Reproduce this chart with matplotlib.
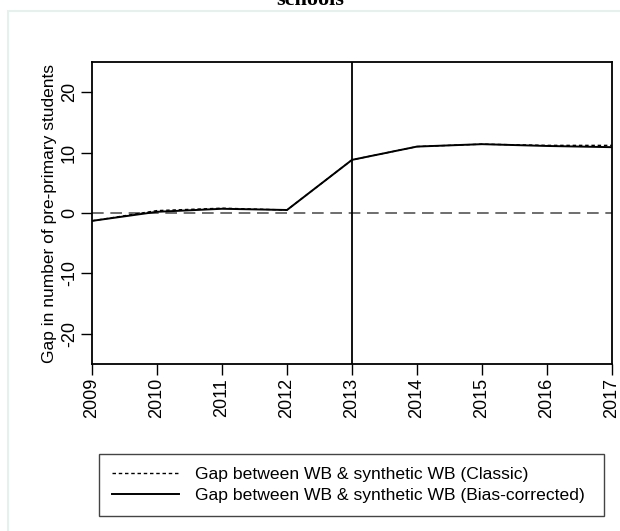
import matplotlib as mpl
mpl.use('Agg')
import matplotlib.pyplot as plt
from matplotlib.patches import Rectangle

years = [2009, 2010, 2011, 2012, 2013, 2014, 2015, 2016, 2017]
gap_classic = [-1.3, 0.4, 0.8, 0.5, 8.8, 11.0, 11.4, 11.2, 11.2]
gap_bias = [-1.3, 0.2, 0.7, 0.5, 8.8, 11.0, 11.4, 11.1, 10.9]
treatment_year = 2013
y_ticks = [-20, -10, 0, 10, 20]

plt.rcParams['font.family'] = ['Liberation Sans', 'DejaVu Sans']
plt.rcParams['axes.unicode_minus'] = False

fig = plt.figure(figsize=(6.2, 5.31), dpi=100)
ax = fig.add_axes([0.1484, 0.3145, 0.8387, 0.5687])

# faint outer frame of the graph region
fig.patches.append(Rectangle((8 / 620, -0.01), 1.0, 1 - 11 / 531 + 0.01,
                             transform=fig.transFigure, fill=False,
                             edgecolor='#e6f0ec', linewidth=1.5))

fig.text(0.5, 1 - 5 / 531, 'schools', ha='center', va='baseline',
         fontsize=16, fontweight='bold', family='Liberation Serif')

ax.axhline(0, color='#555555', linewidth=1.2, dashes=(7, 4))
ax.axvline(treatment_year, color='black', linewidth=1.3)
ax.plot(years, gap_classic, color='black', linewidth=1.0, dashes=(2.5, 2),
        label='Gap between WB & synthetic WB (Classic)')
ax.plot(years, gap_bias, color='black', linewidth=1.4,
        label='Gap between WB & synthetic WB (Bias-corrected)')

ax.set_xlim(2009, 2017)
ax.set_ylim(-25, 25)
ax.set_xticks(years)
ax.set_yticks(y_ticks)
ax.tick_params(axis='both', labelsize=13, length=8, width=1,
               direction='out', pad=2)
for lbl in ax.get_xticklabels():
    lbl.set_rotation(90)
for lbl in ax.get_yticklabels():
    lbl.set_rotation(90)
    lbl.set_va('center')
ax.set_ylabel('Gap in number of pre-primary students', fontsize=12.5,
              labelpad=3)
for s in ax.spines.values():
    s.set_linewidth(1.3)

handles, labels = ax.get_legend_handles_labels()
leg = fig.legend(handles, labels, loc='center left',
                 bbox_to_anchor=(99 / 620, 15 / 531, 505 / 620, 62 / 531),
                 mode='expand', fontsize=12.6, handlelength=3.8,
                 handletextpad=0.95, fancybox=False, framealpha=1,
                 edgecolor='#444444', borderpad=0.75, labelspacing=0.3,
                 borderaxespad=0)
leg.get_frame().set_linewidth(1.0)

fig.savefig('out.png', dpi=100)
